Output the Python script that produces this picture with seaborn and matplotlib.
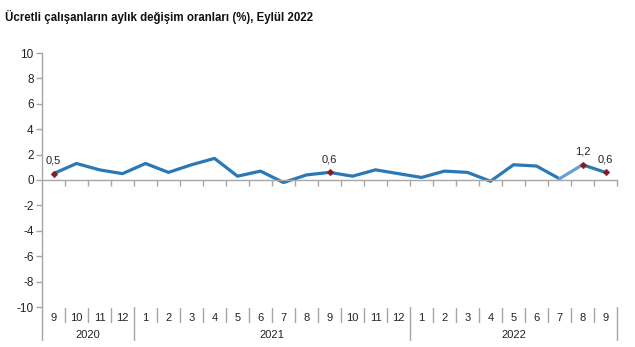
import matplotlib
matplotlib.use("Agg")
import matplotlib.pyplot as plt
import matplotlib.transforms as mtransforms
import seaborn as sns
import pandas as pd
import numpy as np

title = "Ücretli çalışanların aylık değişim oranları (%), Eylül 2022"
months = ["9", "10", "11", "12",
          "1", "2", "3", "4", "5", "6", "7", "8", "9", "10", "11", "12",
          "1", "2", "3", "4", "5", "6", "7", "8", "9"]
years = ["2020", "2021", "2022"]
year_counts = [4, 12, 9]
values = [0.5, 1.3, 0.8, 0.5,
          1.3, 0.6, 1.2, 1.7, 0.3, 0.7, -0.2, 0.4, 0.6, 0.3, 0.8, 0.5,
          0.2, 0.7, 0.6, -0.1, 1.2, 1.1, 0.1, 1.2, 0.6]
labelled = [0, 12, 23, 24]

sns.set_theme(style="white")
plt.rcParams['font.family'] = ['Liberation Sans', 'DejaVu Sans']

df = pd.DataFrame({"i": np.arange(len(values)), "v": values})

fig = plt.figure(figsize=(6.35, 3.47), dpi=100)
ax = fig.add_axes([42/635, 1-307/347, 575/635, 254/347])

line_color = "#2a78b6"
light_color = "#6a9fd2"
sns.lineplot(data=df.iloc[:23], x="i", y="v", ax=ax, color=line_color, lw=2.3)
sns.lineplot(data=df.iloc[22:24], x="i", y="v", ax=ax, color=light_color, lw=2.3)
sns.lineplot(data=df.iloc[23:], x="i", y="v", ax=ax, color=line_color, lw=2.3)
lab = df.iloc[labelled]
sns.scatterplot(data=lab, x="i", y="v", ax=ax, marker="D", s=12, color="#8b1a1a",
                edgecolor="#8b1a1a", zorder=5)
for _, r in lab.iterrows():
    ax.annotate(f"{r['v']:.1f}".replace(".", ","), (r["i"], r["v"]),
                xytext=(0, 6), textcoords="offset points", ha="center", va="bottom",
                fontsize=8, color="#222222")

ax.set_xlim(-0.5, len(values) - 0.5)
ax.set_ylim(-10, 10)
ax.set_yticks(np.arange(-10, 11, 2))
ax.set_yticklabels([str(t) for t in range(-10, 11, 2)], fontsize=8.5, color="#222222")
ax.set_xlabel("")
ax.set_ylabel("")

grey = "#a6a6a6"
for s in ["top", "right"]:
    ax.spines[s].set_visible(False)
ax.spines["left"].set_color(grey)
ax.spines["left"].set_linewidth(1.0)
ax.spines["bottom"].set_position(("data", 0))
ax.spines["bottom"].set_color(grey)
ax.spines["bottom"].set_linewidth(1.0)
ax.set_xticks([])
ax.set_xticks(np.arange(0.5, len(values) - 0.5 + 0.01, 1), minor=True)
ax.tick_params(axis="x", which="minor", length=4, color=grey, width=1, direction="out",
               bottom=True, labelbottom=False)
ax.tick_params(axis="y", length=4, color=grey, width=1, direction="out", left=True, pad=2)

trans = mtransforms.blended_transform_factory(ax.transData, ax.transAxes)
for i, m in enumerate(months):
    ax.text(i, -0.043, m, transform=trans, ha="center", va="center", fontsize=8, color="#222222")
# separators
bounds = np.cumsum(year_counts) - 0.5
for b in np.arange(0.5, len(values) - 0.5, 1):
    if b in bounds:
        continue
    ax.plot([b, b], [-0.005, -0.06], transform=trans, color=grey, lw=1, clip_on=False)
for b in list(bounds):
    ax.plot([b, b], [0, -0.13], transform=trans, color=grey, lw=1, clip_on=False)
ax.plot([-0.5, -0.5], [0, -0.13], transform=trans, color=grey, lw=1, clip_on=False)
start = -0.5
for y, c in zip(years, year_counts):
    ax.text(start + c / 2, -0.112, y, transform=trans, ha="center", va="center",
            fontsize=8, color="#222222")
    start += c

fig.text(5/635, 1-17/347, title, ha="left", va="center", fontsize=8.3, fontweight="bold",
         color="#111111")

fig.savefig("out.png", dpi=100)
